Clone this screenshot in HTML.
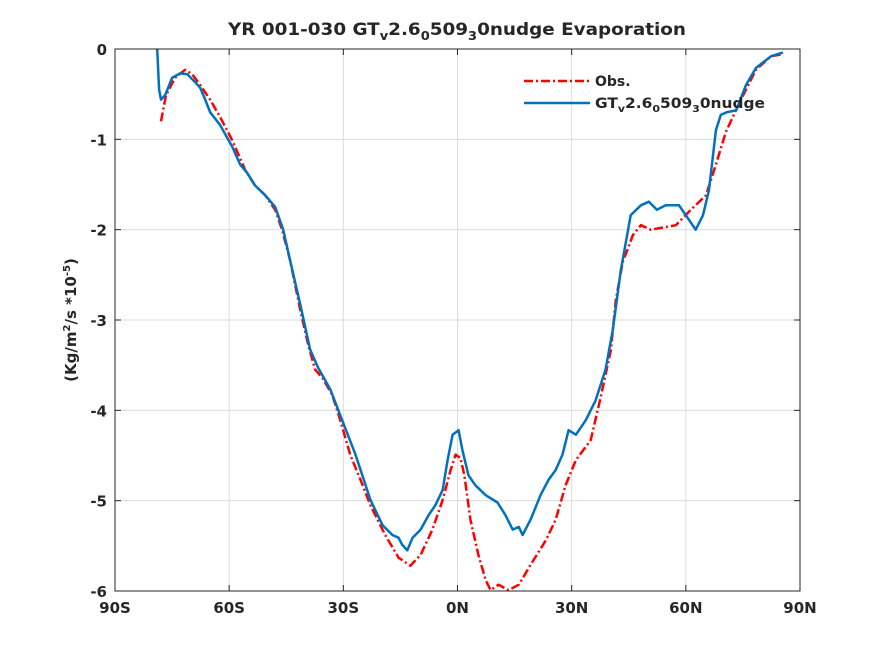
<!DOCTYPE html>
<html><head><meta charset="utf-8"><style>
body{margin:0;background:#fff;}
svg text{font-family:"DejaVu Sans","Liberation Sans",sans-serif;font-weight:bold;fill:#262626;}
</style></head><body>
<svg width="884" height="663" viewBox="0 0 884 663" xmlns="http://www.w3.org/2000/svg">
<rect width="884" height="663" fill="#fff"/>
<g id="grid"></g>
<g id="series"></g>
<rect x="115" y="49" width="685" height="542" fill="none" stroke="#262626" stroke-width="1"/>
<g id="ticks"></g>
<text x="228" y="35" font-size="17" textLength="458" lengthAdjust="spacingAndGlyphs" style="font-family:'DejaVu Sans Condensed','Liberation Sans Narrow',sans-serif">YR 001-030 GT<tspan font-size="12" dy="5">v</tspan><tspan dy="-5">2.6</tspan><tspan font-size="12" dy="5">0</tspan><tspan dy="-5">509</tspan><tspan font-size="12" dy="5">3</tspan><tspan dy="-5">0nudge Evaporation</tspan></text>
<text transform="translate(76,320) rotate(-90)" text-anchor="middle" font-size="15">(Kg/m<tspan font-size="10" dy="-6">2</tspan><tspan dy="6">/s *10</tspan><tspan font-size="10" dy="-6">-5</tspan><tspan dy="6">)</tspan></text>
<g>
<line x1="524" y1="81" x2="590" y2="81" stroke="#ff0000" stroke-width="2.5" stroke-dasharray="9,3,2,3"/>
<text x="595" y="86" font-size="14">Obs.</text>
<line x1="524" y1="103" x2="590" y2="103" stroke="#0072bd" stroke-width="2.5"/>
<text x="595" y="108" font-size="14" textLength="170" lengthAdjust="spacingAndGlyphs">GT<tspan font-size="10" dy="4">v</tspan><tspan dy="-4">2.6</tspan><tspan font-size="10" dy="4">0</tspan><tspan dy="-4">509</tspan><tspan font-size="10" dy="4">3</tspan><tspan dy="-4">0nudge</tspan></text>
</g>
</svg>
<script>
const xTicks=[-90,-60,-30,0,30,60,90];
const xTickLabels=["90S","60S","30S","0N","30N","60N","90N"];
const yTicks=[0,-1,-2,-3,-4,-5,-6];
const yTickLabels=["0","-1","-2","-3","-4","-5","-6"];
const obsLat=[-77.9,-76.6,-74.2,-71.6,-69.7,-67.6,-65,-62.4,-59.2,-55.8,-53.2,-50.5,-47.9,-46.1,-44,-41.3,-39.2,-37.4,-35.5,-32.9,-30.8,-28.2,-25.5,-22.9,-19,-15.5,-12.4,-9.7,-6.6,-3.9,-1.8,-0.5,0.8,1.8,3.4,5.5,7.4,8.7,10.8,13.4,16.1,19.2,23.2,25.8,28.4,31.1,35,37.6,40.3,41.6,43.4,46.1,48.2,50.8,54.7,57.4,61.3,65.3,67.9,70.5,74.5,78.4,82.4,85];
const obsVal=[-0.80,-0.51,-0.32,-0.23,-0.28,-0.40,-0.56,-0.75,-1.01,-1.34,-1.51,-1.62,-1.78,-2.00,-2.34,-2.89,-3.28,-3.55,-3.64,-3.83,-4.11,-4.49,-4.77,-5.05,-5.38,-5.63,-5.72,-5.60,-5.32,-4.99,-4.66,-4.49,-4.53,-4.72,-5.21,-5.60,-5.88,-5.99,-5.93,-5.99,-5.93,-5.71,-5.44,-5.21,-4.83,-4.55,-4.33,-3.86,-3.33,-2.78,-2.36,-2.06,-1.95,-2.00,-1.97,-1.95,-1.78,-1.62,-1.28,-0.92,-0.56,-0.23,-0.08,-0.06];
const modLat=[-78.9,-78.4,-77.9,-76.8,-75,-72.9,-71,-68.9,-67.6,-66.3,-65,-62.4,-59.2,-57.1,-55.3,-53.2,-50.5,-47.9,-45.8,-44,-41.3,-38.7,-36.6,-33.4,-30.3,-26.8,-22.9,-19.7,-17.1,-15.5,-14.5,-13.2,-11.8,-9.7,-7.6,-5.8,-3.9,-2.6,-1.3,0.3,1.3,2.9,4.7,7.4,10.5,12.6,14.5,16.1,17.1,19.2,21.8,23.9,25.8,27.6,29.2,31.1,33.7,36.3,38.9,40.8,42.9,45.5,48.2,50.3,52.4,54.7,58.2,60.8,62.6,64.5,66.1,67.9,69.2,70.8,73.2,75.8,78.4,82.4,85.5];
const modVal=[0,-0.45,-0.56,-0.51,-0.32,-0.27,-0.28,-0.37,-0.43,-0.56,-0.70,-0.84,-1.08,-1.28,-1.37,-1.51,-1.62,-1.75,-2.00,-2.34,-2.83,-3.33,-3.53,-3.77,-4.11,-4.49,-4.99,-5.27,-5.38,-5.41,-5.49,-5.55,-5.41,-5.32,-5.16,-5.05,-4.88,-4.55,-4.27,-4.22,-4.44,-4.72,-4.83,-4.94,-5.02,-5.16,-5.32,-5.29,-5.38,-5.21,-4.94,-4.77,-4.66,-4.49,-4.22,-4.27,-4.11,-3.89,-3.55,-3.11,-2.45,-1.84,-1.73,-1.69,-1.78,-1.73,-1.73,-1.89,-2.00,-1.84,-1.56,-0.90,-0.73,-0.70,-0.68,-0.40,-0.21,-0.08,-0.04];

const L=115,R=800,T=49,B=591;
function xs(v){return L+(v+90)/180*(R-L);}
function ys(v){return T+(0-v)/6*(B-T);}
const NS="http://www.w3.org/2000/svg";
const grid=document.getElementById('grid'),ticks=document.getElementById('ticks'),series=document.getElementById('series');
xTicks.forEach((t,i)=>{
  const x=xs(t);
  const g=document.createElementNS(NS,'line');
  
  
  g.setAttribute('x1',x);g.setAttribute('x2',x);g.setAttribute('y1',T);g.setAttribute('y2',B);
  g.setAttribute('stroke','#dcdcdc');g.setAttribute('stroke-width','1');
  grid.appendChild(g);
  [[B,B-6],[T,T+6]].forEach(p=>{const tk=document.createElementNS(NS,'line');
    
    
    tk.setAttribute('x1',x);tk.setAttribute('x2',x);tk.setAttribute('y1',p[0]);tk.setAttribute('y2',p[1]);tk.setAttribute('stroke','#262626');ticks.appendChild(tk);});
  const tx=document.createElementNS(NS,'text');
  
  
  tx.setAttribute('x',x);tx.setAttribute('y',B+22);tx.setAttribute('text-anchor','middle');tx.setAttribute('font-size','15');
  tx.textContent=xTickLabels[i];ticks.appendChild(tx);
});
yTicks.forEach((t,i)=>{
  const y=ys(t);
  const g=document.createElementNS(NS,'line');
  
  
  g.setAttribute('x1',L);g.setAttribute('x2',R);g.setAttribute('y1',y);g.setAttribute('y2',y);
  g.setAttribute('stroke','#dcdcdc');g.setAttribute('stroke-width','1');
  grid.appendChild(g);
  [[L,L+6],[R,R-6]].forEach(p=>{const tk=document.createElementNS(NS,'line');
    
    
    tk.setAttribute('x1',p[0]);tk.setAttribute('x2',p[1]);tk.setAttribute('y1',y);tk.setAttribute('y2',y);tk.setAttribute('stroke','#262626');ticks.appendChild(tk);});
  const tx=document.createElementNS(NS,'text');
  
  
  tx.setAttribute('x',L-8);tx.setAttribute('y',y+6);tx.setAttribute('text-anchor','end');tx.setAttribute('font-size','15');
  tx.textContent=yTickLabels[i];ticks.appendChild(tx);
});
function path(lat,val,color,dash,name){
  const p=document.createElementNS(NS,'path');
  
  
  p.setAttribute('d',lat.map((v,i)=>(i?'L':'M')+xs(v).toFixed(1)+','+ys(val[i]).toFixed(1)).join(''));
  p.setAttribute('fill','none');p.setAttribute('stroke',color);p.setAttribute('stroke-width','2.5');
  p.setAttribute('stroke-linejoin','round');
  if(dash)p.setAttribute('stroke-dasharray',dash);
  series.appendChild(p);
}
path(obsLat,obsVal,'#ff0000','9,3,2,3','obs-line');
path(modLat,modVal,'#0072bd',null,'model-line');
</script>
</body></html>
